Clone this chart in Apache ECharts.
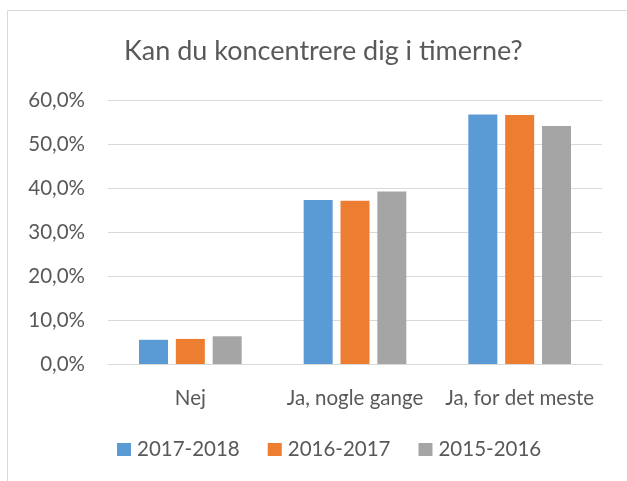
<!DOCTYPE html>
<html>
<head>
<meta charset="utf-8">
<script src="https://cdn.jsdelivr.net/npm/echarts@6/dist/echarts.min.js"></script>
<style>
  html, body { margin: 0; padding: 0; background: #fff; }
  #main { width: 627px; height: 481px; }
</style>
</head>
<body>
<div id="main"></div>
<script>
// data
const categories = ['Nej', 'Ja, nogle gange', 'Ja, for det meste'];
const s2017 = [5.5, 37.3, 56.7];
const s2016 = [5.7, 37.1, 56.6];
const s2015 = [6.3, 39.2, 54.1];
const seriesNames = ['2017-2018', '2016-2017', '2015-2016'];
const colors = ['#5B9BD5', '#ED7D31', '#A5A5A5'];

const font = 'Lato';
const textColor = '#595959';

let myChart = echarts.init(document.getElementById('main'));

function bar(name, data, color) {
  return {
    name: name,
    type: 'bar',
    data: data,
    barWidth: 29,
    barGap: '27%',
    itemStyle: { color: color },
    emphasis: { disabled: true }
  };
}

let option = {
  animation: false,
  textStyle: { fontFamily: font },
  graphic: [{
    type: 'rect',
    shape: { x: 7.5, y: 10.5, width: 700, height: 600 },
    style: { fill: 'none', stroke: '#D9D9D9', lineWidth: 1 },
    silent: true
  }],
  title: {
    text: 'Kan du koncentrere dig i timerne?',
    left: 119,
    top: 33,
    textStyle: { fontFamily: font, fontSize: 27, fontWeight: 'normal', color: textColor }
  },
  legend: {
    data: seriesNames,
    bottom: 16,
    left: 112,
    itemWidth: 14,
    itemHeight: 13,
    itemGap: 28,
    icon: 'rect',
    textStyle: { fontFamily: font, fontSize: 20.5, color: textColor, padding: [0, 0, 0, 1] }
  },
  grid: {
    left: 108,
    right: 25,
    top: 100,
    bottom: 117
  },
  xAxis: {
    type: 'category',
    data: categories,
    axisLine: { lineStyle: { color: '#D9D9D9', width: 1 } },
    axisTick: { show: false },
    axisLabel: { fontFamily: font, fontSize: 20.5, color: textColor, margin: 24, interval: 0, hideOverlap: false }
  },
  yAxis: {
    type: 'value',
    min: 0,
    max: 60,
    interval: 10,
    axisLine: { show: false },
    axisTick: { show: false },
    splitLine: { lineStyle: { color: '#D9D9D9', width: 1 } },
    axisLabel: {
      fontFamily: font, fontSize: 20.5, color: textColor, margin: 23,
      formatter: function (v) { return v.toFixed(1).replace('.', ',') + '%'; }
    }
  },
  series: [
    bar(seriesNames[0], s2017, colors[0]),
    bar(seriesNames[1], s2016, colors[1]),
    bar(seriesNames[2], s2015, colors[2])
  ]
};

myChart.setOption(option);
</script>
</body>
</html>
